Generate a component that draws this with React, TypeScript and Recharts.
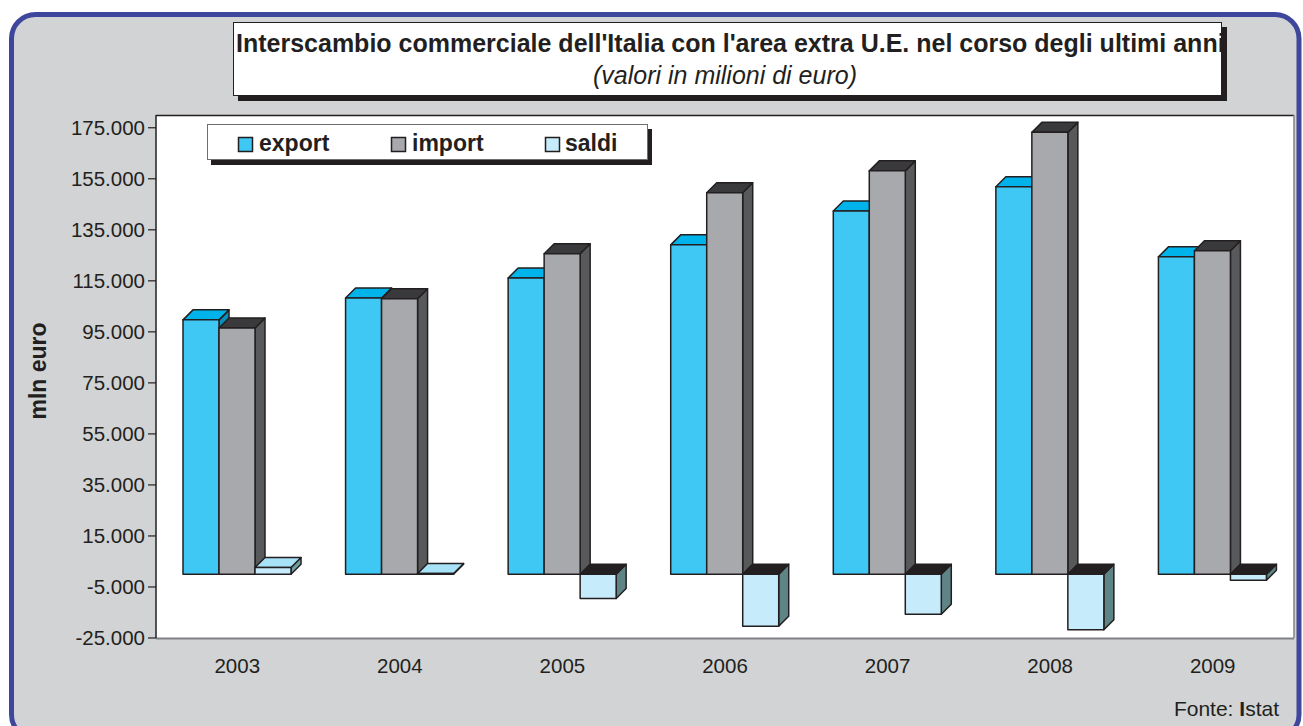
import React from 'react';
import { BarChart, Bar, XAxis, YAxis } from 'recharts';

const years = ['2003', '2004', '2005', '2006', '2007', '2008', '2009'];
const exportValues = [99700, 108300, 116100, 129100, 142400, 151900, 124400];
const importValues = [96500, 108000, 125600, 149500, 158100, 173200, 126800];
const saldiValues = [2600, 300, -9500, -20400, -15700, -21800, -2400];
const yTicks = [-25000, -5000, 15000, 35000, 55000, 75000, 95000, 115000, 135000, 155000, 175000];

const data = years.map((year, i) => ({
  year,
  export: exportValues[i],
  import: importValues[i],
  saldi: saldiValues[i],
}));

const FONT = '"Liberation Sans", Arial, Helvetica, sans-serif';
const INK = '#231F20';

const fmt = (v: number) =>
  (v < 0 ? '-' : '') + Math.abs(v).toString().replace(/\B(?=(\d{3})+(?!\d))/g, '.');

type Colors = { front: string; top: string; side: string };

const makeShape = (pos: Colors, neg: Colors, key: string) => (props: any) => {
  const { x, y, width, height, payload } = props;
  if (x == null || y == null) return null;
  const v = payload ? payload[key] : 0;
  const c = v < 0 ? neg : pos;
  const t = Math.min(y, y + height);
  const h = Math.abs(height);
  const w = width;
  const d = 10;
  const topPts = `${x},${t} ${x + w},${t} ${x + w + d},${t - d} ${x + d},${t - d}`;
  const sidePts = `${x + w},${t} ${x + w + d},${t - d} ${x + w + d},${t + h - d} ${x + w},${t + h}`;
  return (
    <g strokeLinejoin="round">
      <polygon points={sidePts} fill={c.side} stroke={INK} strokeWidth={1.5} />
      <polygon points={topPts} fill={c.top} stroke={INK} strokeWidth={1.5} />
      <rect x={x} y={t} width={w} height={h} fill={c.front} stroke={INK} strokeWidth={1.5} />
    </g>
  );
};

const exportShape = makeShape(
  { front: '#3FC8F4', top: '#00B4EB', side: '#0A8FBD' },
  { front: '#3FC8F4', top: '#00B4EB', side: '#0A8FBD' },
  'export'
);
const importShape = makeShape(
  { front: '#A7A9AC', top: '#3A3A3C', side: '#58595B' },
  { front: '#A7A9AC', top: '#3A3A3C', side: '#58595B' },
  'import'
);
const saldiShape = makeShape(
  { front: '#C6EBFA', top: '#A8E2F7', side: '#6E9EA0' },
  { front: '#C6EBFA', top: '#231F20', side: '#5F8486' },
  'saldi'
);

const XTick = (props: any) => {
  const { x, payload } = props;
  return (
    <text x={x} y={673} textAnchor="middle" fontFamily={FONT} fontSize={20.5} fill={INK}>
      {payload.value}
    </text>
  );
};

const YTick = (props: any) => {
  const { x, y, payload } = props;
  return (
    <text x={x} y={y} dy="0.36em" textAnchor="end" fontFamily={FONT} fontSize={20.5} fill={INK}>
      {fmt(payload.value)}
    </text>
  );
};

const legendItems = [
  { label: 'export', color: '#3FC8F4', sx: 238, tx: 259 },
  { label: 'import', color: '#A7A9AC', sx: 391, tx: 412 },
  { label: 'saldi', color: '#C6EBFA', sx: 545, tx: 565 },
];

export default function App() {
  return (
    <div style={{ position: 'absolute', left: 0, top: 0, width: 1303, height: 726, overflow: 'hidden', background: '#fff' }}>
      <svg width={1303} height={726} style={{ position: 'absolute', left: 0, top: 0 }}>
        <rect x={11.5} y={14.5} width={1287.5} height={724} rx={24} ry={24} fill="#D1D3D4" stroke="#3F479D" strokeWidth={5} />
        {/* title box */}
        <rect x={238} y={27} width={989} height={74} fill={INK} />
        <rect x={233.5} y={22.5} width={988} height={73} fill="#fff" stroke={INK} strokeWidth={1} />
        <text x={236} y={52} fontFamily={FONT} fontWeight="bold" fontSize={25} fill={INK}>
          Interscambio commerciale dell'Italia con l'area extra U.E. nel corso degli ultimi anni
        </text>
        <text x={725} y={84} textAnchor="middle" fontFamily={FONT} fontStyle="italic" fontSize={25} fill={INK}>
          (valori in milioni di euro)
        </text>
        {/* plot area */}
        <rect x={156} y={115} width={1138} height={523} fill="#fff" />
        <line x1={156} y1={115.5} x2={1294} y2={115.5} stroke={INK} strokeWidth={1.5} />
        <line x1={1294} y1={115} x2={1294} y2={638} stroke="#808285" strokeWidth={1.5} />
        <line x1={156} y1={638.5} x2={1294} y2={638.5} stroke="#808285" strokeWidth={2} />
        {/* y axis title */}
        <text x={0} y={0} transform="translate(46,371) rotate(-90)" textAnchor="middle" fontFamily={FONT} fontWeight="bold" fontSize={23} fill={INK}>
          mln euro
        </text>
        {/* source */}
        <text x={1279} y={716} textAnchor="end" fontFamily={FONT} fontSize={21} fill={INK}>
          Fonte: <tspan fontWeight="bold">I</tspan>stat
        </text>
        {/* legend */}
        <rect x={211} y={129} width={441} height={36} fill={INK} />
        <rect x={207.5} y={124.5} width={440} height={35} fill="#fff" stroke="#6D6E71" strokeWidth={1} />
        {legendItems.map((it) => (
          <g key={it.label}>
            <rect x={it.sx + 0.5} y={137.5} width={14} height={14} fill={it.color} stroke={INK} strokeWidth={1.5} />
            <text x={it.tx} y={151} fontFamily={FONT} fontWeight="bold" fontSize={23} fill={INK}>
              {it.label}
            </text>
          </g>
        ))}
      </svg>
      <div style={{ position: 'absolute', left: 0, top: 0 }}>
        <BarChart
          width={1303}
          height={726}
          data={data}
          margin={{ top: 115, right: 9, bottom: 48, left: 0 }}
          barGap={0}
        >
          <XAxis dataKey="year" axisLine={false} tickLine={false} height={40} tick={<XTick />} interval={0} />
          <YAxis
            width={156}
            domain={[-25000, 180000]}
            ticks={yTicks}
            interval={0}
            tickSize={8}
            tickMargin={3}
            axisLine={{ stroke: INK, strokeWidth: 1.5 }}
            tickLine={{ stroke: INK, strokeWidth: 1.2 }}
            tick={<YTick />}
            allowDataOverflow
          />
          <Bar dataKey="export" barSize={36} shape={exportShape} isAnimationActive={false} />
          <Bar dataKey="import" barSize={36} shape={importShape} isAnimationActive={false} />
          <Bar dataKey="saldi" barSize={36} shape={saldiShape} isAnimationActive={false} />
        </BarChart>
      </div>
    </div>
  );
}
